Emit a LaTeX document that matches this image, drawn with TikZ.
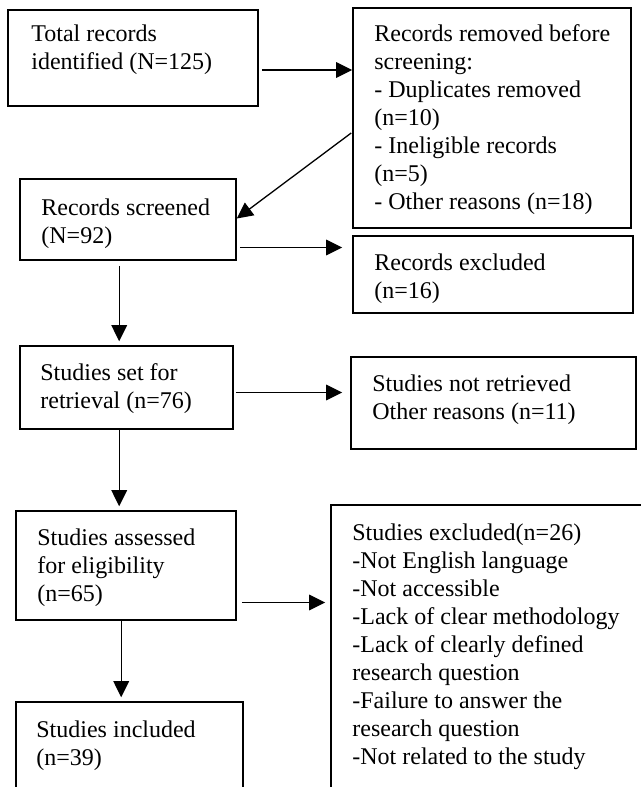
\documentclass[tikz,border=0pt]{standalone}
\usepackage{fontspec}
\setmainfont{Liberation Serif}
\usetikzlibrary{arrows.meta,calc,fit}
\begin{document}
\begin{tikzpicture}[x=0.5pt,y=-0.5pt,
  box/.style={draw, line width=0.8pt, inner sep=0pt},
  txt/.style={anchor=north west, align=left, inner sep=0pt, font=\fontsize{12}{14}\selectfont},
  arr/.style={line width=0.65pt, -{Triangle[length=8pt,width=7.8pt]}}]
\useasboundingbox (0,0) rectangle (641,787);
\clip (0,0) rectangle (641,787);
% boxes
\node[box, fit={(8,10) (258,106)}] (b1) {};
\node[box, fit={(353,8) (631,228)}] (b2) {};
\node[box, fit={(20,179) (236,260)}] (b3) {};
\node[box, fit={(353,236) (633,313)}] (b3x) {};
\node[box, fit={(20,346) (233,429)}] (b4) {};
\node[box, fit={(351,357) (636,449)}] (b5) {};
\node[box, fit={(16,511) (236,620)}] (b6) {};
\node[box, fit={(331,505) (680,830)}] (b7) {};
\node[box, fit={(16,702) (243,830)}] (b8) {};
% texts
\node[txt] (t1) at (31,21.4) {\strut Total records\\identified (N=125)};
\node[txt] (t2) at (374,21.4) {\strut Records removed before\\screening:\\- Duplicates removed\\(n=10)\\- Ineligible records\\(n=5)\\- Other reasons (n=18)};
\node[txt] (t3) at (41,195.4) {\strut Records screened\\(N=92)};
\node[txt] (t3x) at (374,250.4) {\strut Records excluded\\(n=16)};
\node[txt] (t4) at (40,360.4) {\strut Studies set for\\retrieval (n=76)};
\node[txt] (t5) at (372,371.4) {\strut Studies not retrieved\\Other reasons (n=11)};
\node[txt] (t6) at (37,525.4) {\strut Studies assessed\\for eligibility\\(n=65)};
\node[txt] (t7) at (352,520.4) {\strut Studies excluded(n=26)\\-Not English language\\-Not accessible\\-Lack of clear methodology\\-Lack of clearly defined\\research question\\-Failure to answer the\\research question\\-Not related to the study};
\node[txt] (t8) at (36,717.4) {\strut Studies included\\(n=39)};
% connectors
\draw[arr] ($(b1.east)+(3,12)$) coordinate (a1) -- (a1 -| b2.west);
\draw[arr] ($(b2.west)+(-1,15)$) -- ($(b3.east)+(0,-1)$);
\draw[arr] ($(b3.east)+(3,28)$) coordinate (a2) -- ($(a2 -| b3x.west)+(-10,0)$);
\draw[arr] ($(b3.south west)+(100,5)$) coordinate (a3) -- ($(a3 |- b4.north)+(0,-4)$);
\draw[arr] ($(b4.east)+(2,5)$) coordinate (a4) -- ($(a4 -| b5.west)+(-8,0)$);
\draw[arr] ($(b4.south west)+(100,0)$) coordinate (a5) -- ($(a5 |- b6.north)+(0,-4)$);
\draw[arr] ($(b6.east)+(5,37)$) coordinate (a6) -- ($(a6 -| b7.west)+(-5,0)$);
\draw[arr] ($(b6.south west)+(106,0)$) coordinate (a7) -- ($(a7 |- b8.north)+(0,-4)$);
\end{tikzpicture}
\end{document}
